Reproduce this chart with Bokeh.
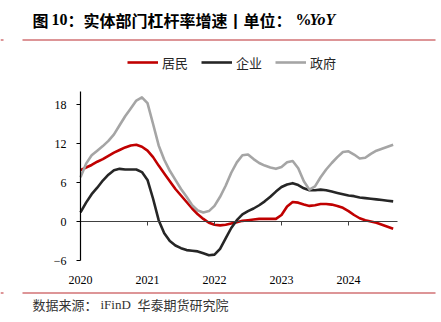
from bokeh.plotting import figure
from bokeh.models import (Range1d, FixedTicker, LinearAxis, Legend, LegendItem,
                          Label, BoxAnnotation, CustomJSTickFormatter, ColumnDataSource)
from bokeh.embed import file_html
from bokeh.resources import INLINE

# ---------------- data (monthly, Jan 2020 .. Sep 2024, % YoY) ----------------
month_labels = [f"{y}-{m:02d}" for y in range(2020, 2025) for m in range(1, 13)][:57]

households = [7.9, 8.3, 8.7, 9.2, 9.6, 10.1, 10.6, 11.0, 11.4, 11.7, 11.8, 11.5,
              10.9, 9.9, 8.6, 7.4, 6.2, 5.0, 4.0, 3.0, 2.0, 1.1, 0.4, -0.2,
              -0.5, -0.6, -0.5, -0.3, -0.1, 0.1, 0.2, 0.3, 0.4, 0.4, 0.4, 0.4,
              1.0, 2.3, 3.0, 2.9, 2.6, 2.4, 2.5, 2.7, 2.7, 2.6, 2.4, 2.1,
              1.6, 1.0, 0.5, 0.2, 0.0, -0.2, -0.5, -0.8, -1.1]

corporates = [1.4, 2.9, 4.2, 5.2, 6.3, 7.2, 7.9, 8.1, 8.0, 8.0, 8.0, 7.6,
              6.4, 3.5, 0.2, -1.8, -3.0, -3.7, -4.1, -4.4, -4.5, -4.6, -4.9, -5.2,
              -5.1, -4.2, -2.6, -1.0, 0.2, 1.1, 1.6, 2.0, 2.5, 3.1, 3.8, 4.6,
              5.3, 5.7, 5.9, 5.6, 5.1, 4.8, 4.8, 4.9, 4.8, 4.6, 4.4, 4.2,
              4.0, 3.9, 3.7, 3.6, 3.5, 3.4, 3.3, 3.2, 3.1]

government = [6.8, 8.9, 10.2, 10.9, 11.6, 12.4, 13.4, 14.8, 16.2, 17.4, 18.6, 19.1,
              18.2, 15.0, 11.7, 9.5, 7.8, 6.4, 5.0, 3.8, 2.5, 1.7, 1.4, 1.6,
              2.4, 3.8, 5.5, 7.5, 9.1, 10.2, 10.3, 9.6, 9.0, 8.6, 8.3, 8.1,
              8.4, 9.1, 9.3, 8.2, 6.2, 4.9, 5.4, 6.8, 8.0, 9.0, 9.9, 10.7,
              10.8, 10.3, 9.7, 9.8, 10.4, 10.9, 11.2, 11.5, 11.8]

series_names = ["居民", "企业", "政府"]
series_colors = ["#C00000", "#262626", "#A5A5A5"]
year_ticks = [2020, 2021, 2022, 2023, 2024]
y_ticks = [-6, 0, 6, 12, 18]

x_vals = [int(s[:4]) + (int(s[5:]) - 1) / 12 for s in month_labels]
src = ColumnDataSource(dict(x=x_vals, hh=households, co=corporates, gov=government))

SERIF = "Liberation Serif"
CJK = "Noto Sans CJK SC"

W, H = 441, 322
# plot area geometry (pixels): x origin 80, 67 px/year; y zero at 221 from top, 6.5 px/unit
X0, PXY = 80, 67
Y0, PXU = 221, 6.5
X_END = 2024.73
Y_MIN, Y_MAX = -6, 20

x_range = Range1d(2020 - X0 / PXY, 2020 + (W - X0) / PXY)
y_range = Range1d(-(H - Y0) / PXU, Y0 / PXU)

p = figure(width=W, height=H, output_backend="svg", toolbar_location=None,
           x_range=x_range, y_range=y_range, x_axis_type=None, y_axis_type=None,
           min_border=0, min_border_left=0, min_border_right=0, min_border_top=0,
           min_border_bottom=0,
           background_fill_color="white", border_fill_color="white", outline_line_color=None)
p.grid.visible = False

# lines
renderers = []
for col, color in zip(["hh", "co", "gov"], series_colors):
    r = p.line("x", col, source=src, line_color=color, line_width=2.6, line_join="round")
    renderers.append(r)

# y axis at x = 2020
ya = LinearAxis(fixed_location=2020, bounds=(Y_MIN, Y_MAX), ticker=FixedTicker(ticks=y_ticks))
ya.axis_line_color = "black"
ya.axis_line_width = 1.2
ya.major_tick_line_color = "black"
ya.major_tick_out = 4
ya.major_tick_in = 0
ya.minor_tick_line_color = None
ya.major_label_text_font = SERIF
ya.major_label_text_font_size = "12px"
ya.major_label_text_color = "black"
ya.major_label_standoff = 10
p.add_layout(ya, "left")

# x labels along the bottom of the plot area
xa = LinearAxis(fixed_location=Y_MIN, bounds=(2020, X_END), ticker=FixedTicker(ticks=year_ticks))
xa.axis_line_color = None
xa.major_tick_line_color = None
xa.minor_tick_line_color = None
xa.major_label_text_font = SERIF
xa.major_label_text_font_size = "12px"
xa.major_label_text_color = "black"
xa.major_label_standoff = 9
p.add_layout(xa, "below")

# zero line with tick marks
za = LinearAxis(fixed_location=0, bounds=(2020, X_END), ticker=FixedTicker(ticks=year_ticks),
                formatter=CustomJSTickFormatter(code="return ''"))
za.axis_line_color = "#404040"
za.axis_line_width = 1.2
za.major_tick_line_color = "#404040"
za.major_tick_in = 0
za.major_tick_out = 4
za.minor_tick_line_color = None
za.major_label_text_font_size = "1px"
p.add_layout(za, "below")

# legend
legend = Legend(items=[LegendItem(label=n, renderers=[r]) for n, r in zip(series_names, renderers)],
                orientation="horizontal", location=(127, H - 72),
                label_text_font=CJK, label_text_font_size="13px", label_text_color="#262626",
                glyph_width=31, glyph_height=20, label_height=20, label_standoff=4, spacing=13,
                padding=0, margin=0, background_fill_alpha=0, border_line_color=None)
p.add_layout(legend)

# text pieces
def lab(text, x, y, font, size, style="normal", color="black"):
    p.add_layout(Label(x=x, y=y, x_units="screen", y_units="screen", text=text,
                       text_font=font, text_font_size=size, text_font_style=style,
                       text_color=color, text_baseline="middle", text_align="left"))

TY = H - 19
lab("图", 32, TY, CJK, "16px", "bold")
lab("10", 51, TY, SERIF, "16px", "bold")
lab("：实体部门杠杆率增速丨单位：", 67, TY, CJK, "16px", "bold")
lab("%", 295, TY, SERIF, "16px", "bold")
lab("YoY", 309, TY, SERIF, "16px", "bold italic")

FY = H - 304
lab("数据来源：", 32, FY, CJK, "13px", color="#333333")
lab("iFinD", 100, FY, SERIF, "13px", color="#333333")
lab("华泰期货研究院", 137, FY, CJK, "13px", color="#333333")

# separator rules
for top in (39.5, 292.5):
    for l, r in ((0, 3), (22, 435)):
        p.add_layout(BoxAnnotation(left=l, right=r, top=H - top + 0.8, bottom=H - top - 0.8,
                                   left_units="screen", right_units="screen",
                                   top_units="screen", bottom_units="screen",
                                   fill_color="#C9585C", fill_alpha=0.85, line_color=None))

open("out.html", "w").write(file_html(p, INLINE))
